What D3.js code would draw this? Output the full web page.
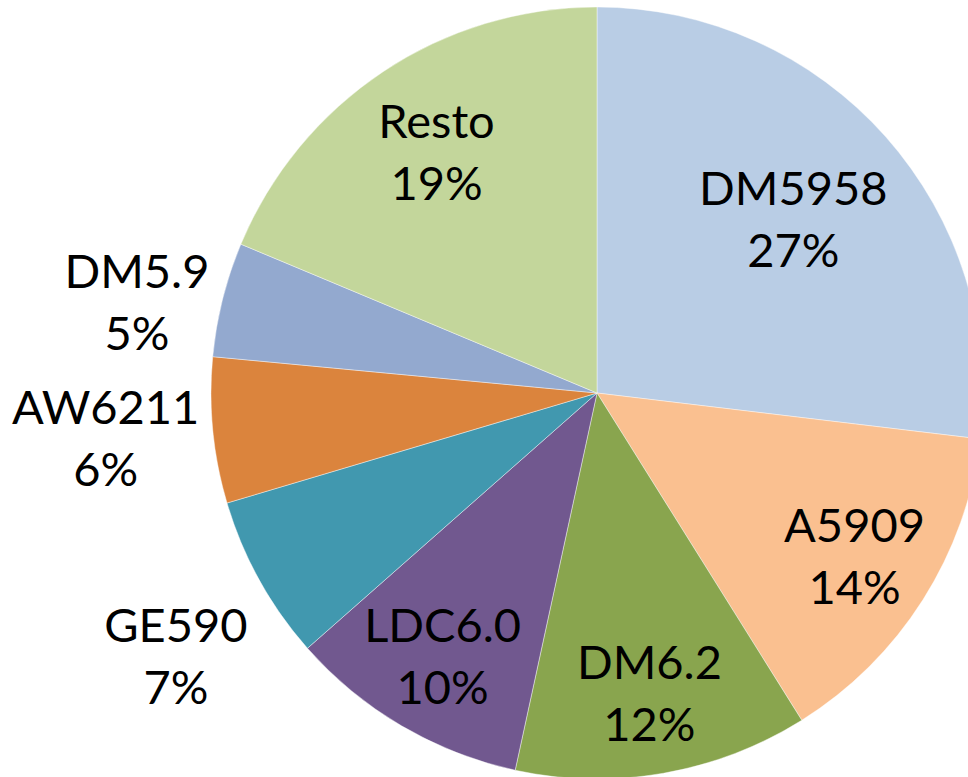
<!DOCTYPE html>
<head>
	<script src="https://d3js.org/d3.v7.min.js"></script>
	<style>
		body { margin: 0; background: #fff; }
		.lbl {
			font-family: "Lato";
			font-size: 47px;
			fill: #000;
		}
	</style>
</head>

<body>
	<script>
		// pie of shares, Excel style, cut off at the right and bottom edge

		var names = ["DM5958", "A5909", "DM6.2", "LDC6.0", "GE590", "AW6211", "DM5.9", "Resto"];
		var shares = [26.9, 14.2, 12.3, 10.1, 6.9, 6.1, 4.8, 18.7];
		var colors = ["#B9CDE5", "#FAC090", "#89A54E", "#71588F", "#4198AF", "#DB843D", "#93A9CF", "#C3D69B"];

		var width = 968;
		var height = 777;
		var cx = 597, cy = 393, r = 386;

		var data = names.map(function(n, i) { return { name: n, value: shares[i], color: colors[i] }; });

		var pie = d3.pie()
			.sort(null)
			.value(function(d) { return d.value });
		var arc = d3.arc().innerRadius(0).outerRadius(r);

		var svg = d3.select("body")
			.append("svg")
			.attr("width", width)
			.attr("height", height);

		var g = svg.append("g")
			.attr("transform", "translate(" + [cx, cy] + ")");

		var arcs = pie(data);

		// slices
		g.selectAll("path")
			.data(arcs)
			.enter()
			.append("path")
			.attr("d", arc)
			.attr("fill", function(d) { return d.data.color })
			.attr("stroke", "#fff")
			.attr("stroke-width", 0.7)
			.attr("stroke-opacity", 0.6);

		var lineH = 62, halfCap = 17;

		var labels = g.selectAll("text")
			.data(arcs)
			.enter()
			.append("text")
			.attr("class", "lbl")
			.attr("text-anchor", "middle");

		labels.append("tspan")
			.attr("x", 0)
			.attr("y", -lineH / 2 + halfCap)
			.text(function(d) { return d.data.name });
		labels.append("tspan")
			.attr("x", 0)
			.attr("y", lineH / 2 + halfCap)
			.text(function(d) { return Math.round(d.data.value) + "%" });

		// best-fit-ish placement: small slices go outside, the rest inside
		labels.attr("transform", function(d) {
			var a = (d.startAngle + d.endAngle) / 2;
			var ux = Math.sin(a), uy = -Math.cos(a);
			var x, y;
			if (d.data.value < 8) {
				var hw = this.getBBox().width / 2;
				var k = 1.035 * r;
				x = ux * k + (ux < 0 ? -hw : hw);
				y = uy * k + (uy > 0.3 ? 69 : 6);
			} else {
				var f = d.data.value > 25 ? 0.68 : d.data.value > 15 ? 0.75 : 0.79;
				x = ux * f * r;
				y = uy * f * r;
			}
			return "translate(" + [x, y] + ")";
		});
	</script>
</body>
</html>
